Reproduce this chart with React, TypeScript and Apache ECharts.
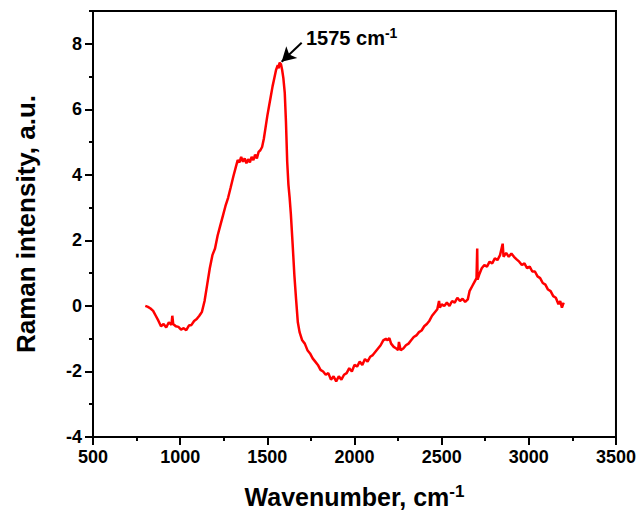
import React, { useEffect, useRef } from "react";
import * as echarts from "echarts";

const waveNumbers = [
  800, 815, 830, 845, 860, 875, 890, 905, 920, 935, 950, 955, 960, 975, 990, 1005, 1020, 1035, 1050, 1065,
  1080, 1095, 1110, 1125, 1140, 1155, 1170, 1185, 1200, 1215, 1230, 1245, 1260, 1275, 1290, 1305, 1320, 1330,
  1340, 1350, 1360, 1370, 1380, 1390, 1400, 1410, 1420, 1430, 1440, 1450, 1460, 1470, 1480, 1490, 1500, 1510,
  1520, 1530, 1540, 1550, 1560, 1565, 1570, 1578, 1585, 1592, 1600, 1607, 1614, 1621, 1628, 1635, 1645, 1655,
  1665, 1675, 1685, 1700, 1715, 1730, 1745, 1760, 1775, 1790, 1805, 1820, 1835, 1850, 1865, 1880, 1895, 1910,
  1925, 1940, 1955, 1970, 1985, 2000, 2015, 2030, 2045, 2060, 2075, 2090, 2105, 2120, 2135, 2150, 2165, 2180,
  2190, 2200, 2210, 2225, 2240, 2250, 2255, 2265, 2280, 2295, 2310, 2325, 2340, 2355, 2370, 2385, 2400, 2415,
  2430, 2445, 2460, 2475, 2485, 2490, 2500, 2515, 2530, 2545, 2560, 2575, 2590, 2605, 2620, 2635, 2650, 2660,
  2675, 2690, 2700, 2704, 2706, 2715, 2730, 2745, 2760, 2775, 2790, 2805, 2820, 2835, 2850, 2855, 2870, 2885,
  2900, 2915, 2930, 2945, 2960, 2975, 2990, 3005, 3020, 3035, 3050, 3065, 3080, 3095, 3110, 3125, 3140, 3155,
  3170, 3180, 3190, 3200,
];

const intensities = [
  0.0, -0.03, -0.08, -0.15, -0.3, -0.45, -0.62, -0.55, -0.66, -0.5, -0.58, -0.3, -0.55, -0.62, -0.64, -0.72, -0.68, -0.74, -0.6, -0.58,
  -0.46, -0.4, -0.3, -0.18, 0.15, 0.65, 1.15, 1.55, 1.75, 2.15, 2.45, 2.75, 3.05, 3.3, 3.62, 3.95, 4.25, 4.45,
  4.38, 4.55, 4.4, 4.5, 4.35, 4.48, 4.38, 4.55, 4.45, 4.62, 4.5, 4.7, 4.75, 4.85, 5.1, 5.45, 5.8, 6.1,
  6.4, 6.7, 6.95, 7.2, 7.35, 7.25, 7.42, 7.38, 7.2, 6.95, 6.5, 5.6, 4.4, 3.7, 3.3, 2.8, 1.9, 0.95,
  0.2, -0.5, -0.8, -1.05, -1.15, -1.35, -1.45, -1.6, -1.7, -1.8, -1.95, -2.0, -2.1, -2.05, -2.25, -2.15, -2.3, -2.15,
  -2.25, -2.1, -2.05, -1.9, -2.0, -1.8, -1.85, -1.7, -1.8, -1.62, -1.7, -1.55, -1.5, -1.4, -1.3, -1.2, -1.05, -1.0,
  -1.05, -0.98, -1.15, -1.25, -1.3, -1.35, -1.1, -1.35, -1.3, -1.2, -1.15, -1.05, -0.95, -0.9, -0.8, -0.75, -0.62, -0.55,
  -0.45, -0.3, -0.2, -0.1, 0.15, -0.05, 0.05, 0.0, 0.1, 0.0, 0.15, 0.1, 0.25, 0.15, 0.22, 0.12, 0.2, 0.45,
  0.6, 0.75, 0.85, 1.75, 0.8, 0.95, 1.15, 1.25, 1.2, 1.35, 1.3, 1.45, 1.4, 1.55, 1.9, 1.5, 1.62, 1.5,
  1.6, 1.5, 1.42, 1.35, 1.25, 1.3, 1.15, 1.2, 1.05, 1.05, 0.9, 0.85, 0.7, 0.65, 0.5, 0.45, 0.3, 0.25,
  0.05, 0.15, -0.05, 0.1,
];

const peakLabel = "1575 cm";
const arrowStart = [1697, 8.03];
const arrowEnd = [1582, 7.45];

const xTitle = "Wavenumber, cm";
const yTitle = "Raman intensity, a.u.";

const font = "'Liberation Sans', Arial, sans-serif";

export default function App() {
  const ref = useRef<HTMLDivElement>(null);
  useEffect(() => {
    if (!ref.current) return;
    const chart = echarts.init(ref.current, null, { renderer: "svg" });
    const data = waveNumbers.map((x, i) => [x, intensities[i]]);
    const labelStyle = {
      color: "#000",
      fontFamily: font,
      fontWeight: "bold" as const,
      fontSize: 18,
    };
    chart.setOption({
      animation: false,
      backgroundColor: "#fff",
      grid: {
        left: 93,
        right: 22,
        top: 11,
        bottom: 84,
        show: true,
        borderColor: "#000",
        borderWidth: 2,
        backgroundColor: "transparent",
      },
      xAxis: {
        type: "value",
        min: 500,
        max: 3500,
        interval: 500,
        axisLine: { show: true, onZero: false, lineStyle: { color: "#000", width: 2 } },
        axisTick: { show: true, inside: false, length: 8, lineStyle: { color: "#000", width: 2 } },
        minorTick: { show: true, splitNumber: 2, length: 4, lineStyle: { color: "#000", width: 2 } },
        splitLine: { show: false },
        axisLabel: { ...labelStyle, margin: 11, formatter: (v: number) => String(v) },
        name: `{a|${xTitle}}{b|-1}`,
        nameLocation: "middle",
        nameGap: 46,
        nameTextStyle: {
          rich: {
            a: { fontFamily: font, fontWeight: "bold", fontSize: 25, color: "#000", lineHeight: 28 },
            b: { fontFamily: font, fontWeight: "bold", fontSize: 17, color: "#000", verticalAlign: "top", lineHeight: 18 },
          },
        },
      },
      yAxis: [
        {
          type: "value",
          min: -4,
          max: 9,
          interval: 2,
          axisLine: { show: true, onZero: false, lineStyle: { color: "#000", width: 2 } },
          axisTick: { show: true, inside: false, length: 8, lineStyle: { color: "#000", width: 2 } },
          splitLine: { show: false },
          axisLabel: { ...labelStyle, margin: 11, showMaxLabel: false, formatter: (v: number) => (v === 9 ? "" : String(v)) },
          name: yTitle,
          nameLocation: "middle",
          nameGap: 54,
          nameTextStyle: { fontFamily: font, fontWeight: "bold", fontSize: 26, color: "#000" },
        },
        {
          type: "value",
          min: -4,
          max: 9,
          interval: 1,
          position: "left",
          axisLine: { show: false, onZero: false },
          axisTick: { show: true, inside: false, length: 4, lineStyle: { color: "#000", width: 2 } },
          axisLabel: { show: false },
          splitLine: { show: false },
        },
      ],
      series: [
        {
          type: "line",
          data,
          yAxisIndex: 0,
          showSymbol: false,
          symbol: "none",
          lineStyle: { color: "#ff0000", width: 2.5 },
          silent: true,
          markLine: {
            silent: true,
            symbol: ["none", "arrow"],
            symbolSize: [12, 14],
            label: { show: false },
            lineStyle: { color: "#000", width: 2, type: "solid" },
            data: [[{ coord: arrowStart }, { coord: arrowEnd }]],
          },
        },
      ],
      graphic: [
        {
          type: "text",
          left: 306,
          top: 26,
          style: {
            text: `{a|${peakLabel}}{b|-1}`,
            rich: {
              a: { fontFamily: font, fontWeight: "bold", fontSize: 20, fill: "#000", lineHeight: 24 },
              b: { fontFamily: font, fontWeight: "bold", fontSize: 14, fill: "#000", verticalAlign: "top", lineHeight: 16 },
            },
          },
        },
      ],
    });
    return () => chart.dispose();
  }, []);
  return (
    <div
      ref={ref}
      style={{ position: "absolute", left: 0, top: 0, width: 639, height: 521 }}
    />
  );
}
